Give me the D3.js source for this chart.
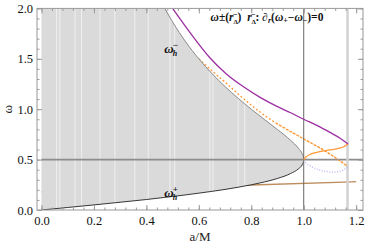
<!DOCTYPE html>
<html>
<head>
<meta charset="utf-8">
<script src="https://cdn.jsdelivr.net/npm/d3@7"></script>
<style>
  body { margin: 0; background: #fff; }
  svg text { font-family: "Liberation Serif", "Times New Roman", Times, serif; }
</style>
</head>
<body>
<div id="chart"></div>
<script>
// horizon frequencies (gray region between them)
var horizonA = [0, 0.1, 0.2, 0.3, 0.4, 0.47, 0.5, 0.55, 0.6, 0.65, 0.7, 0.75, 0.8, 0.85, 0.9, 0.95, 0.98, 0.995, 0.999, 1];
var omegaHMinus = [2, 2, 2, 2, 2, 2.0, 1.866, 1.668, 1.5, 1.354, 1.224, 1.108, 1.0, 0.898, 0.798, 0.691, 0.612, 0.553, 0.523, 0.5];
var omegaHPlus = [0, 0.025, 0.0505, 0.077, 0.104, 0.125, 0.134, 0.15, 0.167, 0.185, 0.204, 0.226, 0.25, 0.278, 0.313, 0.362, 0.409, 0.452, 0.478, 0.5];

// omega_+ (purple)
var purpleA = [0.5, 0.578, 0.642, 0.705, 0.769, 0.832, 0.896, 0.95, 1.0, 1.05, 1.1, 1.14, 1.169];
var purpleW = [2.0, 1.72, 1.51, 1.35, 1.225, 1.12, 1.03, 0.965, 0.9, 0.84, 0.77, 0.71, 0.655];

// orange dashed
var dashA = [0.6, 0.642, 0.705, 0.769, 0.832, 0.896, 1.0, 1.086, 1.169];
var dashW = [1.5, 1.40, 1.257, 1.108, 0.975, 0.86, 0.705, 0.578, 0.43];

// orange solid
var solidA = [1.0, 1.008, 1.025, 1.05, 1.086, 1.12, 1.15, 1.169];
var solidW = [0.5, 0.525, 0.552, 0.572, 0.59, 0.605, 0.625, 0.655];

// lavender dotted
var lavA = [1.0, 1.01, 1.03, 1.061, 1.09, 1.112, 1.135, 1.155, 1.169];
var lavW = [0.49, 0.463, 0.43, 0.397, 0.38, 0.375, 0.382, 0.403, 0.43];

// brown line
var brownA = [0, 0.4, 0.8, 1.2];
var brownW = [0.18, 0.214, 0.248, 0.281];

// white rendering streaks inside the gray region
var streakA = [0.058, 0.07, 0.128, 0.153, 0.223, 0.28, 0.356, 0.407, 0.49, 0.508, 0.642, 0.654, 0.75, 0.775];

var xTicks = [0, 0.2, 0.4, 0.6, 0.8, 1.0, 1.2];
var yTicks = [0, 0.5, 1.0, 1.5, 2.0];
var refOmega = 0.5, refA = 1.0, refA2 = 1.167;

var serif = "'Liberation Serif', 'Times New Roman', Times, serif";
var W = 366, H = 245;
var svg = d3.select("#chart").append("svg")
    .attr("width", W).attr("height", H)
    .attr("font-family", serif);

var x = d3.scaleLinear().domain([-0.017, 1.226]).range([37, 363]);
var y = d3.scaleLinear().domain([0, 2]).range([210, 8.4]);

svg.append("clipPath").attr("id", "clip")
  .append("rect")
    .attr("x", x.range()[0]).attr("y", y(2))
    .attr("width", x.range()[1] - x.range()[0])
    .attr("height", y(0) - y(2));

var plot = svg.append("g").attr("clip-path", "url(#clip)");

function pts(a, w) { return a.map(function (d, i) { return [d, w[i]]; }); }
var line = d3.line()
    .x(function (d) { return x(d[0]); })
    .y(function (d) { return y(d[1]); })
    .curve(d3.curveMonotoneX);

// lines hidden under the region
plot.append("path").attr("d", line(pts(brownA, brownW)))
    .attr("fill", "none").attr("stroke", "#bd8c5c").attr("stroke-width", 1.3);
plot.append("path").attr("d", line(pts(dashA, dashW)))
    .attr("fill", "none").attr("stroke", "#ff9a3a").attr("stroke-width", 1.3)
    .attr("stroke-dasharray", "2,2");

// gray region
var hz = horizonA.map(function (d, i) { return { a: d, lo: omegaHPlus[i], hi: omegaHMinus[i] }; });
var area = d3.area()
    .x(function (d) { return x(d.a); })
    .y0(function (d) { return y(d.lo); })
    .y1(function (d) { return y(d.hi); })
    .curve(d3.curveMonotoneX);
svg.append("clipPath").attr("id", "regionClip")
  .append("path").attr("d", area(hz));
plot.append("path").attr("d", area(hz)).attr("fill", "#dadada");

plot.append("g").attr("clip-path", "url(#regionClip)")
  .selectAll("line").data(streakA).enter().append("line")
    .attr("x1", function (d) { return x(d); }).attr("x2", function (d) { return x(d); })
    .attr("y1", y(2)).attr("y2", y(0))
    .attr("stroke", "#fff").attr("stroke-opacity", 0.6).attr("stroke-width", 1);

// boundaries
plot.append("path").attr("d", line(pts(horizonA.slice(5), omegaHMinus.slice(5))))
    .attr("fill", "none").attr("stroke", "#8a8a8a").attr("stroke-width", 1);
plot.append("path").attr("d", line(pts(horizonA, omegaHPlus)))
    .attr("fill", "none").attr("stroke", "#222").attr("stroke-width", 0.9);

// reference lines
plot.append("line")
    .attr("x1", x(0)).attr("x2", x.range()[1])
    .attr("y1", y(refOmega)).attr("y2", y(refOmega))
    .attr("stroke", "#8c8c8c").attr("stroke-width", 1.8);
plot.append("line")
    .attr("x1", x(refA2)).attr("x2", x(refA2))
    .attr("y1", y(0)).attr("y2", y(2))
    .attr("stroke", "#d2d2d2").attr("stroke-width", 2.5);
plot.append("line")
    .attr("x1", x(refA)).attr("x2", x(refA))
    .attr("y1", y(0)).attr("y2", y(2))
    .attr("stroke", "#666").attr("stroke-width", 1);

// curves
plot.append("path").attr("d", line(pts(lavA, lavW)))
    .attr("fill", "none").attr("stroke", "#b4b4ee").attr("stroke-width", 1.3)
    .attr("stroke-dasharray", "1,1.6");
plot.append("path").attr("d", line(pts(dashA.slice(5), dashW.slice(5))))
    .attr("fill", "none").attr("stroke", "#ff9a3a").attr("stroke-width", 1.3)
    .attr("stroke-dasharray", "2,2");
plot.append("path").attr("d", line(pts(solidA, solidW)))
    .attr("fill", "none").attr("stroke", "#ff9a3a").attr("stroke-width", 1.3);
plot.append("path").attr("d", line(pts(purpleA, purpleW)))
    .attr("fill", "none").attr("stroke", "#9c2ea2").attr("stroke-width", 1.3);

// frame and ticks
var tickCol = "#999";
function minor(lo, hi, step) { return d3.range(Math.round(lo / step), Math.round(hi / step) + 1).map(function (k) { return +(k * step).toFixed(3); }); }
var xMinor = minor(0, 1.2, 0.04), yMinor = minor(0, 2, 0.1);

function styleAxis(g) {
  g.attr("font-family", serif).attr("font-size", 12.5);
  g.select(".domain").remove();
  g.selectAll("line").attr("stroke", tickCol);
  g.selectAll("text").attr("fill", "#111");
}

svg.append("g").attr("transform", "translate(0," + y(0) + ")")
    .call(d3.axisBottom(x).tickValues(xMinor).tickSize(-2.5).tickFormat("")).call(styleAxis);
svg.append("g").attr("transform", "translate(0," + y(0) + ")")
    .call(d3.axisBottom(x).tickValues(xTicks).tickSize(-5).tickPadding(6).tickFormat(d3.format(".1f"))).call(styleAxis);
svg.append("g").attr("transform", "translate(0," + y(2) + ")")
    .call(d3.axisTop(x).tickValues(xMinor).tickSize(-2.5).tickFormat("")).call(styleAxis);
svg.append("g").attr("transform", "translate(0," + y(2) + ")")
    .call(d3.axisTop(x).tickValues(xTicks).tickSize(-5).tickFormat("")).call(styleAxis);

svg.append("g").attr("transform", "translate(" + x.range()[0] + ",0)")
    .call(d3.axisLeft(y).tickValues(yMinor).tickSize(-2.5).tickFormat("")).call(styleAxis);
svg.append("g").attr("transform", "translate(" + x.range()[0] + ",0)")
    .call(d3.axisLeft(y).tickValues(yTicks).tickSize(-5).tickPadding(4).tickFormat(d3.format(".1f"))).call(styleAxis);
svg.append("g").attr("transform", "translate(" + x.range()[1] + ",0)")
    .call(d3.axisRight(y).tickValues(yMinor).tickSize(-2.5).tickFormat("")).call(styleAxis);
svg.append("g").attr("transform", "translate(" + x.range()[1] + ",0)")
    .call(d3.axisRight(y).tickValues(yTicks).tickSize(-5).tickFormat("")).call(styleAxis);

svg.append("rect")
    .attr("x", x.range()[0]).attr("y", y(2))
    .attr("width", x.range()[1] - x.range()[0]).attr("height", y(0) - y(2))
    .attr("fill", "none").attr("stroke", tickCol).attr("stroke-width", 1);

// axis labels
svg.append("text")
    .attr("transform", "translate(12," + y(1) + ") rotate(-90)")
    .attr("text-anchor", "middle").attr("font-size", 13).attr("fill", "#222")
    .text("ω");
svg.append("text")
    .attr("x", (x.range()[0] + x.range()[1]) / 2).attr("y", 241)
    .attr("text-anchor", "middle").attr("font-size", 13).attr("fill", "#222")
    .text("a/M");

// curve annotations
function omegaLabel(a, w, sign) {
  var g = svg.append("g").attr("transform", "translate(" + x(a) + "," + y(w) + ")")
      .attr("font-weight", "bold").attr("fill", "#111");
  g.append("text").attr("font-size", 13).attr("font-style", "italic").text("ω");
  g.append("text").attr("x", 8.5).attr("y", 3).attr("font-size", 8).attr("font-style", "italic").text("h");
  g.append("text").attr("x", 8.5).attr("y", -5).attr("font-size", 9).text(sign);
}
omegaLabel(0.468, 1.56, "\u2212");
omegaLabel(0.468, 0.13, "+");

// title
var t = svg.append("text")
    .attr("x", x(0.645)).attr("y", y(1.875))
    .attr("font-size", 11.5).attr("font-weight", "bold").attr("fill", "#111");
t.append("tspan").attr("font-style", "italic").text("ω");
t.append("tspan").text("±(");
t.append("tspan").attr("font-style", "italic").text("r");
t.append("tspan").attr("dy", 3).attr("font-size", 7).text("Δ");
t.append("tspan").attr("dx", -5).attr("dy", -7).attr("font-size", 8).text("\u2212");
t.append("tspan").attr("dy", 4).text(")\u2002");
t.append("tspan").attr("font-style", "italic").text("r");
t.append("tspan").attr("dy", 3).attr("font-size", 7).text("Δ");
t.append("tspan").attr("dx", -5).attr("dy", -7).attr("font-size", 8).text("\u2212");
t.append("tspan").attr("dy", 4).text(": ∂");
t.append("tspan").attr("dy", 2).attr("font-size", 8).attr("font-style", "italic").text("r");
t.append("tspan").attr("dy", -2).text("(");
t.append("tspan").attr("font-style", "italic").text("ω");
t.append("tspan").attr("dy", 2).attr("font-size", 8).text("+");
t.append("tspan").attr("dy", -2).text("\u2212");
t.append("tspan").attr("font-style", "italic").text("ω");
t.append("tspan").attr("dy", 2).attr("font-size", 8).text("\u2212");
t.append("tspan").attr("dy", -2).text(")=0");
</script>
</body>
</html>
